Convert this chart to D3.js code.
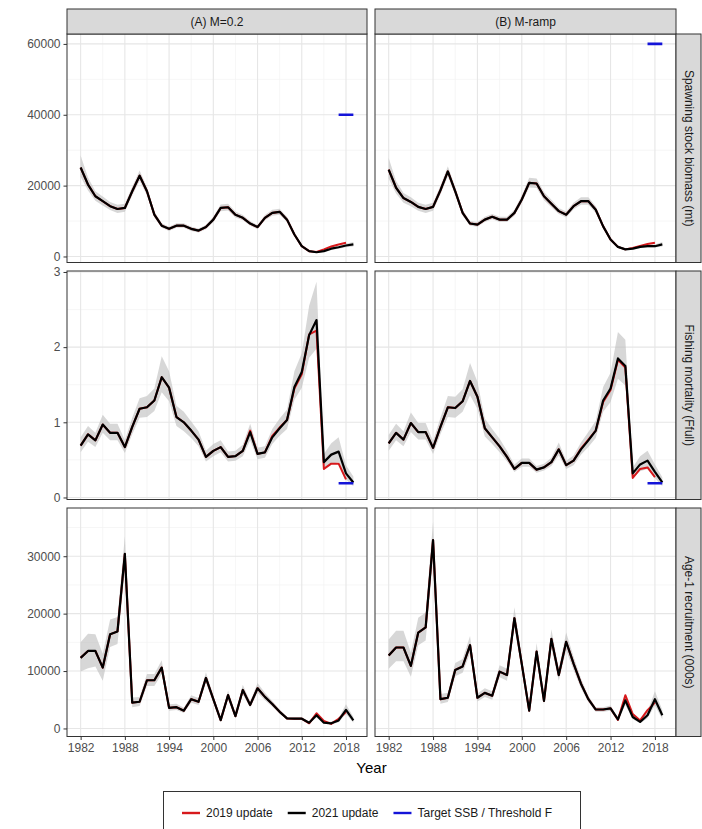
<!DOCTYPE html>
<html><head><meta charset="utf-8">
<script src="https://cdn.jsdelivr.net/npm/d3@7"></script>
<style>body{margin:0;background:#fff}svg{display:block;font-family:"Liberation Sans",Arial,Helvetica,sans-serif}</style>
</head><body><svg id="c" width="702" height="829"></svg>
<script>
// ---------------- DATA ----------------
const years = [1982,1983,1984,1985,1986,1987,1988,1989,1990,1991,1992,1993,1994,1995,1996,1997,1998,1999,2000,
  2001,2002,2003,2004,2005,2006,2007,2008,2009,2010,2011,2012,2013,2014,2015,2016,2017,2018,2019];
const years2019 = years.slice(0, 37); // 2019 update runs to 2018

const colLabels = ["(A) M=0.2", "(B) M-ramp"];
const rowLabels = ["Spawning stock biomass (mt)", "Fishing mortality (Ffull)", "Age-1 recruitment (000s)"];
const legendLabels = ["2019 update", "2021 update", "Target SSB / Threshold F"];

const xTicks = [1982,1988,1994,2000,2006,2012,2018];
const yTicksSSB = [0,20000,40000,60000];
const yTicksF = [0,1,2,3];
const yTicksR = [0,10000,20000,30000];

// Panel A SSB
const ssbA_2021 = [25100,20300,17000,15600,14200,13400,13700,18400,22800,18400,11800,8700,7800,8700,8700,7800,7300,8300,10400,
  13700,13900,11800,10900,9300,8300,10900,12300,12600,10400,6200,2900,1500,1200,1500,2200,2600,3100,3400];
const ssbA_lo = [22500,18600,15700,14400,13100,12300,12600,17200,21400,17300,11000,8100,7200,8100,8100,7200,6800,7700,9700,
  12800,13000,11000,10200,8700,7700,10200,11500,11800,9700,5700,2600,1300,1000,1300,1900,2200,2600,2800];
const ssbA_hi = [28500,22300,18400,16900,15400,14600,14900,19700,24300,19600,12700,9400,8400,9400,9400,8400,7900,8900,11200,
  14700,14900,12700,11700,10000,8900,11700,13200,13500,11200,6700,3300,1700,1400,1800,2500,3000,3600,4100];
const ssbA_2019 = [25100,20300,17000,15600,14200,13400,13700,18400,22800,18400,11800,8700,7800,8700,8700,7800,7300,8300,10400,
  13700,13900,11800,10900,9300,8300,10900,12300,12600,10400,6200,2900,1500,1300,2000,2800,3400,3900];

// Panel B SSB
const ssbB_2021 = [24500,19400,16500,15400,14000,13400,14000,18700,24000,18400,12300,9300,9000,10400,11200,10400,10400,12300,16100,
  20800,20600,17000,14900,12800,11800,14200,15600,15600,13200,8500,4800,2700,2000,2200,2700,2900,2900,3400];
const ssbB_lo = [22000,17800,15200,14200,12900,12300,12900,17500,22600,17300,11500,8700,8400,9700,10500,9700,9700,11500,15100,
  19500,19300,15900,13900,12000,11000,13300,14600,14600,12300,7900,4400,2400,1800,1900,2400,2500,2500,2800];
const ssbB_hi = [27800,21300,17900,16700,15200,14600,15200,20000,25500,19600,13200,10000,9700,11200,12000,11200,11200,13200,17200,
  22200,22000,18200,16000,13700,12700,15200,16700,16700,14200,9200,5300,3000,2300,2500,3100,3400,3400,4100];
const ssbB_2019 = [24500,19400,16500,15400,14000,13400,14000,18700,24000,18400,12300,9300,9000,10400,11200,10400,10400,12300,16100,
  20800,20600,17000,14900,12800,11800,14200,15600,15600,13200,8500,4800,2700,2000,2400,3000,3500,3900];

// Panel A F
const fA_2021 = [0.69,0.84,0.76,0.97,0.86,0.86,0.67,0.94,1.18,1.20,1.29,1.60,1.46,1.07,1.00,0.89,0.77,0.54,0.62,
  0.67,0.54,0.55,0.62,0.87,0.58,0.60,0.80,0.92,1.03,1.47,1.67,2.16,2.36,0.47,0.57,0.61,0.32,0.20];
const fA_lo = [0.60,0.74,0.67,0.86,0.76,0.76,0.59,0.84,1.06,1.07,1.15,1.40,1.28,0.95,0.88,0.79,0.68,0.48,0.55,
  0.60,0.48,0.49,0.55,0.76,0.51,0.53,0.71,0.82,0.91,1.30,1.46,1.86,1.98,0.38,0.45,0.47,0.24,0.15];
const fA_hi = [0.80,0.95,0.86,1.10,0.98,0.98,0.76,1.06,1.32,1.35,1.45,1.88,1.68,1.22,1.14,1.01,0.88,0.62,0.71,
  0.76,0.61,0.62,0.70,0.98,0.66,0.68,0.91,1.05,1.17,1.68,1.92,2.55,2.87,0.58,0.72,0.80,0.43,0.28];
const fA_2019 = [0.69,0.84,0.76,0.97,0.86,0.86,0.67,0.94,1.18,1.20,1.29,1.60,1.46,1.07,1.00,0.89,0.77,0.54,0.62,
  0.67,0.54,0.55,0.62,0.89,0.58,0.60,0.82,0.93,1.03,1.45,1.64,2.17,2.22,0.38,0.45,0.45,0.24];

// Panel B F
const fB_2021 = [0.72,0.86,0.77,0.99,0.87,0.87,0.66,0.94,1.20,1.19,1.28,1.55,1.34,0.92,0.80,0.68,0.54,0.38,0.46,
  0.46,0.37,0.40,0.47,0.64,0.43,0.49,0.64,0.76,0.89,1.29,1.45,1.85,1.75,0.32,0.44,0.49,0.34,0.20];
const fB_lo = [0.62,0.76,0.68,0.87,0.77,0.77,0.58,0.84,1.07,1.06,1.14,1.36,1.18,0.81,0.71,0.60,0.48,0.34,0.41,
  0.41,0.33,0.36,0.42,0.56,0.38,0.43,0.57,0.67,0.79,1.14,1.27,1.58,1.49,0.26,0.35,0.38,0.26,0.15];
const fB_hi = [0.83,0.98,0.88,1.13,0.99,0.99,0.75,1.06,1.35,1.34,1.44,1.79,1.54,1.05,0.91,0.78,0.62,0.44,0.52,
  0.52,0.42,0.45,0.53,0.73,0.49,0.56,0.73,0.87,1.02,1.47,1.66,2.20,2.10,0.40,0.55,0.62,0.44,0.27];
const fB_2019 = [0.72,0.86,0.77,0.99,0.87,0.87,0.66,0.94,1.20,1.19,1.28,1.55,1.34,0.92,0.80,0.68,0.54,0.38,0.46,
  0.46,0.37,0.40,0.47,0.64,0.43,0.49,0.65,0.77,0.89,1.27,1.43,1.83,1.73,0.26,0.38,0.40,0.27];

// Panel A recruitment
const rA_2021 = [12300,13500,13500,10600,16400,16900,30400,4500,4650,8400,8400,10600,3600,3700,3100,5100,4650,8800,5100,
  1450,5800,2150,6700,4100,7000,5500,4250,2900,1750,1700,1700,1000,2300,1000,900,1400,3250,1400];
const rA_lo = [9900,10500,10800,8300,14200,14700,27500,3700,3900,7400,7400,9500,3100,3200,2700,4500,4100,7900,4500,
  1200,5100,1850,5900,3600,6200,4900,3800,2600,1550,1500,1500,850,1900,800,700,1100,2500,1000];
const rA_hi = [15000,16500,16400,13000,19000,19400,33500,5400,5500,9500,9500,11900,4200,4300,3600,5800,5300,9800,5800,
  1750,6600,2500,7600,4700,7900,6200,4800,3300,2000,1950,1950,1200,2800,1250,1150,1800,4200,2000];
const rA_2019 = [12300,13500,13500,10600,16400,16900,30400,4500,4650,8400,8400,10600,3600,3700,3100,5100,4650,8800,5100,
  1450,5800,2150,6700,4100,7000,5500,4250,2900,1750,1700,1700,900,2650,1300,800,1700,2850];

// Panel B recruitment
const rB_2021 = [12700,14100,14100,10900,16700,17600,32800,5100,5350,10200,10800,14500,5350,6200,5700,9900,9300,19200,11200,
  3100,13400,4800,15600,9300,15100,11300,7800,5100,3300,3300,3500,1600,4900,2000,1150,2300,5100,2300];
const rB_lo = [10400,11700,11700,9000,14500,15300,29500,4300,4600,9100,9700,13100,4700,5500,5000,8900,8300,17500,10100,
  2700,12000,4200,14000,8300,13600,10200,7000,4600,2900,2900,3100,1350,4100,1600,900,1800,4000,1600];
const rB_hi = [15500,17000,17000,13200,19300,20200,36000,6000,6200,11400,12100,16100,6100,7000,6500,11000,10400,21100,12400,
  3600,14900,5500,17300,10400,16700,12500,8700,5700,3700,3700,4000,1900,5800,2500,1500,3000,6500,3200];
const rB_2019 = [12700,14100,14100,10900,16700,17600,32800,5100,5350,10200,10800,14500,5350,6200,5700,9900,9300,19200,11200,
  3100,13400,4800,15600,9300,15100,11300,7800,5100,3300,3300,3500,1500,5800,2500,1400,3200,4500];

// Reference points (Target SSB / Threshold F)
const refYears = [2017, 2019];
const ssbTarget = [40000, 60000];   // A, B
const fThreshold = [0.19, 0.19];    // A, B

// ---------------- LAYOUT ----------------
const svg = d3.select("#c");
const colX = [[67, 367], [375, 676]];
const rowY = [[34, 262.5], [271, 499.5], [508, 736.5]];
const stripTop = [9, 34];
const stripRight = [676, 701];

const yDomains = [[-1700, 62800], [-0.027, 3.013], [-1400, 38400]];
const yTicks = [yTicksSSB, yTicksF, yTicksR];
const yMinor = [[10000, 30000, 50000], [0.5, 1.5, 2.5], [5000, 15000, 25000, 35000]];
const xMinor = [1985, 1991, 1997, 2003, 2009, 2015];

const panels = [
  [ {v: ssbA_2021, lo: ssbA_lo, hi: ssbA_hi, r: ssbA_2019, ref: ssbTarget[0]},
    {v: ssbB_2021, lo: ssbB_lo, hi: ssbB_hi, r: ssbB_2019, ref: ssbTarget[1]} ],
  [ {v: fA_2021, lo: fA_lo, hi: fA_hi, r: fA_2019, ref: fThreshold[0]},
    {v: fB_2021, lo: fB_lo, hi: fB_hi, r: fB_2019, ref: fThreshold[1]} ],
  [ {v: rA_2021, lo: rA_lo, hi: rA_hi, r: rA_2019, ref: null},
    {v: rB_2021, lo: rB_lo, hi: rB_hi, r: rB_2019, ref: null} ]
];

const RED = "#D7191C", BLACK = "#000000", BLUE = "#1414D8";
const BORDER = "#333333";
const STRIP = "#D9D9D9";
const TICKTXT = "#4D4D4D";

svg.append("rect").attr("width", 702).attr("height", 829).attr("fill", "#fff");
const defs = svg.append("defs");

for (let r = 0; r < 3; r++) {
  for (let c = 0; c < 2; c++) {
    const [x0, x1] = colX[c], [y0, y1] = rowY[r];
    const x = d3.scaleLinear().domain([1980.15, 2020.85]).range([x0, x1]);
    const y = d3.scaleLinear().domain(yDomains[r]).range([y1, y0]);
    const p = panels[r][c];
    const id = `clip${r}${c}`;
    defs.append("clipPath").attr("id", id).append("rect")
      .attr("x", x0).attr("y", y0).attr("width", x1 - x0).attr("height", y1 - y0);
    const g = svg.append("g");
    // minor grid
    g.selectAll(null).data(xMinor).join("line")
      .attr("x1", d => x(d)).attr("x2", d => x(d)).attr("y1", y0).attr("y2", y1)
      .attr("stroke", "#F2F2F2").attr("stroke-width", 0.7);
    g.selectAll(null).data(yMinor[r]).join("line")
      .attr("y1", d => y(d)).attr("y2", d => y(d)).attr("x1", x0).attr("x2", x1)
      .attr("stroke", "#F2F2F2").attr("stroke-width", 0.7);
    // major grid
    g.selectAll(null).data(xTicks).join("line")
      .attr("x1", d => x(d)).attr("x2", d => x(d)).attr("y1", y0).attr("y2", y1)
      .attr("stroke", "#E6E6E6").attr("stroke-width", 1.1);
    g.selectAll(null).data(yTicks[r]).join("line")
      .attr("y1", d => y(d)).attr("y2", d => y(d)).attr("x1", x0).attr("x2", x1)
      .attr("stroke", "#E6E6E6").attr("stroke-width", 1.1);

    const cg = g.append("g").attr("clip-path", `url(#${id})`);
    // ribbon
    const area = d3.area().x((d, i) => x(years[i])).y0((d, i) => y(p.lo[i])).y1((d, i) => y(p.hi[i]));
    cg.append("path").attr("d", area(p.v)).attr("fill", "#BDBDBD").attr("fill-opacity", 0.6);
    // 2019 update
    const line19 = d3.line().x((d, i) => x(years2019[i])).y(d => y(d));
    cg.append("path").attr("d", line19(p.r)).attr("fill", "none").attr("stroke", RED)
      .attr("stroke-width", 2).attr("stroke-linejoin", "round");
    // 2021 update
    const line21 = d3.line().x((d, i) => x(years[i])).y(d => y(d));
    cg.append("path").attr("d", line21(p.v)).attr("fill", "none").attr("stroke", BLACK)
      .attr("stroke-width", 2.2).attr("stroke-linejoin", "round");
    // reference
    if (p.ref !== null) {
      cg.append("line").attr("x1", x(refYears[0])).attr("x2", x(refYears[1]))
        .attr("y1", y(p.ref)).attr("y2", y(p.ref)).attr("stroke", BLUE).attr("stroke-width", 2.6);
    }
    // border
    g.append("rect").attr("x", x0).attr("y", y0).attr("width", x1 - x0).attr("height", y1 - y0)
      .attr("fill", "none").attr("stroke", BORDER).attr("stroke-width", 1);

    // y axis (left column only)
    if (c === 0) {
      const ax = g.append("g").attr("transform", `translate(${x0},0)`)
        .call(d3.axisLeft(y).tickValues(yTicks[r]).tickSize(3.5).tickPadding(3).tickFormat(d3.format("d")));
      ax.select(".domain").remove();
      ax.selectAll(".tick line").attr("stroke", BORDER);
      ax.selectAll(".tick text").attr("fill", TICKTXT).attr("font-size", 12)
        .attr("font-family", '"Liberation Sans",Arial,sans-serif');
    }
    // x axis (bottom row only)
    if (r === 2) {
      const ax = g.append("g").attr("transform", `translate(0,${y1})`)
        .call(d3.axisBottom(x).tickValues(xTicks).tickSize(3.5).tickPadding(3).tickFormat(d3.format("d")));
      ax.select(".domain").remove();
      ax.selectAll(".tick line").attr("stroke", BORDER);
      ax.selectAll(".tick text").attr("fill", TICKTXT).attr("font-size", 12)
        .attr("font-family", '"Liberation Sans",Arial,sans-serif');
    }
  }
}

// top strips
for (let c = 0; c < 2; c++) {
  const [x0, x1] = colX[c];
  svg.append("rect").attr("x", x0).attr("y", stripTop[0]).attr("width", x1 - x0).attr("height", stripTop[1] - stripTop[0])
    .attr("fill", STRIP).attr("stroke", BORDER).attr("stroke-width", 1);
  svg.append("text").attr("x", (x0 + x1) / 2).attr("y", (stripTop[0] + stripTop[1]) / 2)
    .attr("text-anchor", "middle").attr("dominant-baseline", "central")
    .attr("font-size", 12).attr("fill", "#1A1A1A").text(colLabels[c]);
}
// right strips
for (let r = 0; r < 3; r++) {
  const [y0, y1] = rowY[r];
  svg.append("rect").attr("x", stripRight[0]).attr("y", y0).attr("width", stripRight[1] - stripRight[0]).attr("height", y1 - y0)
    .attr("fill", STRIP).attr("stroke", BORDER).attr("stroke-width", 1);
  const cx = (stripRight[0] + stripRight[1]) / 2, cy = (y0 + y1) / 2;
  svg.append("text").attr("transform", `translate(${cx},${cy}) rotate(90)`)
    .attr("text-anchor", "middle").attr("dominant-baseline", "central")
    .attr("font-size", 12).attr("fill", "#1A1A1A").text(rowLabels[r]);
}

// x title
svg.append("text").attr("x", (colX[0][0] + colX[1][1]) / 2).attr("y", 767)
  .attr("text-anchor", "middle").attr("dominant-baseline", "central")
  .attr("font-size", 15).attr("fill", "#000").text("Year");

// legend
const lg = svg.append("g");
lg.append("rect").attr("x", 163.5).attr("y", 791.5).attr("width", 417).attr("height", 44)
  .attr("fill", "#fff").attr("stroke", "#333").attr("stroke-width", 1);
const legColors = [RED, BLACK, BLUE];
let lx = 182;
const ly = 813;
legendLabels.forEach((lab, i) => {
  lg.append("line").attr("x1", lx).attr("x2", lx + 18).attr("y1", ly).attr("y2", ly)
    .attr("stroke", legColors[i]).attr("stroke-width", 2.4);
  const t = lg.append("text").attr("x", lx + 24).attr("y", ly).attr("dominant-baseline", "central")
    .attr("font-size", 12).attr("fill", "#1A1A1A").text(lab);
  lx += 24 + t.node().getComputedTextLength() + 15;
});
</script></body></html>
